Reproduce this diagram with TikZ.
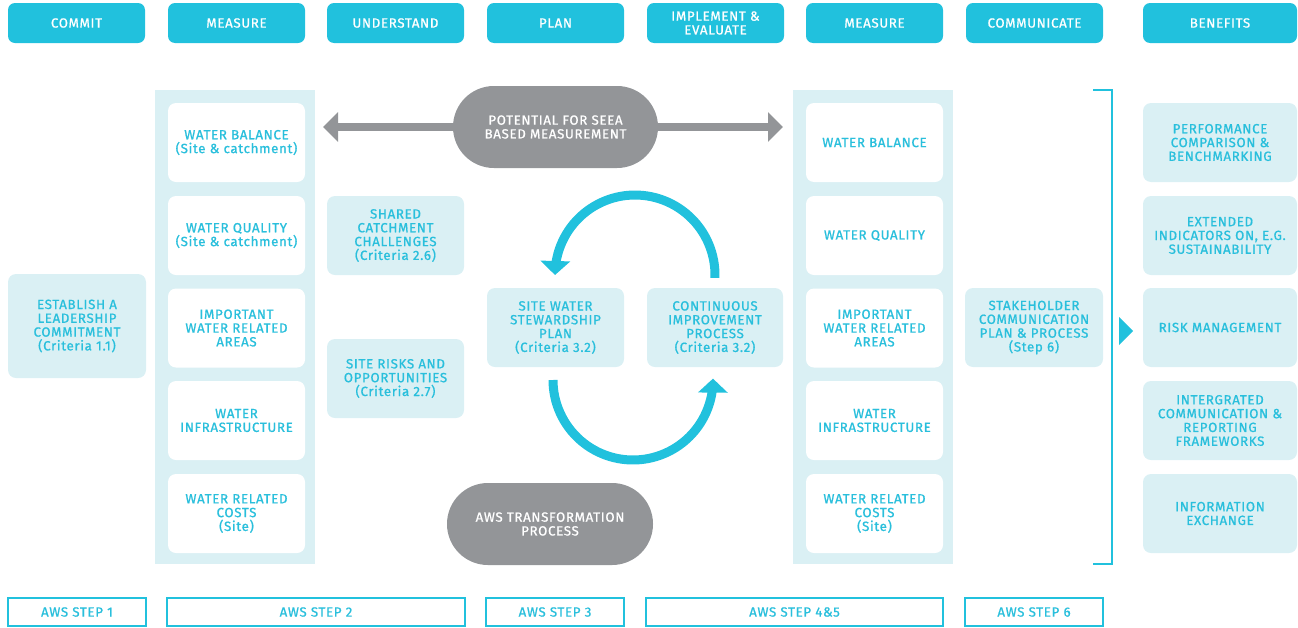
\documentclass[tikz,border=0pt]{standalone}
\usepackage{fontspec}
\setmainfont{Fira Sans}[LetterSpace=5, FakeBold=0.9]
\usetikzlibrary{arrows.meta}
\definecolor{cy}{HTML}{21C1DD}
\definecolor{lb}{HTML}{DAF0F4}
\definecolor{gr}{HTML}{939598}
\definecolor{tx}{HTML}{29BFDC}
\begin{document}
\begin{tikzpicture}[x=1pt,y=-1pt,
 base/.style={inner sep=0pt, align=center, font=\fontsize{13.3}{13.8}\selectfont},
 hdr/.style={base, fill=cy, text=white, rounded corners=7pt, minimum width=137pt, minimum height=40pt},
 wbox/.style={base, fill=white, text=tx, rounded corners=8pt, minimum width=137pt, minimum height=79pt},
 lbox/.style={base, fill=lb, text=tx, rounded corners=8pt, minimum width=137pt, minimum height=79pt},
 pill/.style={base, fill=gr, text=white, rounded corners=40.9pt, minimum width=205pt, minimum height=82pt},
 stepbox/.style={base, draw=cy, line width=1.2pt, fill=white, text=tx, minimum height=28pt},
 col/.style={fill=lb, inner sep=0pt, minimum width=160pt, minimum height=474pt},
 cyc/.style={cy, line width=9pt, -{Triangle[width=29pt,length=14pt]}},
 garrow/.style={gr, line width=8pt, -{Triangle[width=29pt,length=15pt]}},
]
\useasboundingbox (0,0) rectangle (1298,627);
% headers
\node[hdr] (h1) at (76.5,23) {COMMIT};
\node[hdr] (h2) at (236.5,23) {MEASURE};
\node[hdr] (h3) at (395.5,23) {UNDERSTAND};
\node[hdr] (h4) at (555.5,23) {PLAN};
\node[hdr] (h5) at (715.5,23) {IMPLEMENT \&\\EVALUATE};
\node[hdr] (h6) at (874.5,23) {MEASURE};
\node[hdr] (h7) at (1034.5,23) {COMMUNICATE};
\node[hdr, minimum width=154pt] (h8) at (1220,23) {BENEFITS};
% columns
\node[col] (lcol) at (235,327) {};
\node[col] (rcol) at (873,327) {};
% left column
\node[wbox] (lw1) at (236.5,142.5) {WATER BALANCE\\(Site \& catchment)};
\node[wbox] (lw2) at (236.5,235.5) {WATER QUALITY\\(Site \& catchment)};
\node[wbox] (lw3) at (236.5,328) {IMPORTANT\\WATER RELATED\\AREAS};
\node[wbox] (lw4) at (236.5,420.5) {WATER\\INFRASTRUCTURE};
\node[wbox] (lw5) at (236.5,513.5) {WATER RELATED\\COSTS\\(Site)};
% right column
\node[wbox] (rw1) at (874.5,142.5) {WATER BALANCE};
\node[wbox] (rw2) at (874.5,235.5) {WATER QUALITY};
\node[wbox] (rw3) at (874.5,328) {IMPORTANT\\WATER RELATED\\AREAS};
\node[wbox] (rw4) at (874.5,420.5) {WATER\\INFRASTRUCTURE};
\node[wbox] (rw5) at (874.5,513.5) {WATER RELATED\\COSTS\\(Site)};
% light boxes
\node[lbox, minimum width=138pt, minimum height=104pt] (est) at (77,326) {ESTABLISH A\\LEADERSHIP\\COMMITMENT\\(Criteria 1.1)};
\node[lbox] (shared) at (395.5,235.5) {SHARED\\CATCHMENT\\CHALLENGES\\(Criteria 2.6)};
\node[lbox] (risks) at (395.5,378.5) {SITE RISKS AND\\OPPORTUNITIES\\(Criteria 2.7)};
\node[lbox] (swsp) at (555.5,327.5) {SITE WATER\\STEWARDSHIP\\PLAN\\(Criteria 3.2)};
\node[lbox, minimum width=136pt] (cip) at (715,327.5) {CONTINUOUS\\IMPROVEMENT\\PROCESS\\(Criteria 3.2)};
\node[lbox, minimum width=138pt] (stake) at (1034,327.5) {STAKEHOLDER\\COMMUNICATION\\PLAN \& PROCESS\\(Step 6)};
% benefits
\node[lbox, minimum width=154pt] (b1) at (1220,142.5) {PERFORMANCE\\COMPARISON \&\\BENCHMARKING};
\node[lbox, minimum width=154pt] (b2) at (1220,235.5) {EXTENDED\\INDICATORS ON, E.G.\\SUSTAINABILITY};
\node[lbox, minimum width=154pt] (b3) at (1220,327.5) {RISK MANAGEMENT};
\node[lbox, minimum width=154pt] (b4) at (1220,420.5) {INTERGRATED\\COMMUNICATION \&\\REPORTING\\FRAMEWORKS};
\node[lbox, minimum width=154pt] (b5) at (1220,513.5) {INFORMATION\\EXCHANGE};
% pills
\node[pill] (seea) at (555.5,127) {POTENTIAL FOR SEEA\\BASED MEASUREMENT};
\node[pill, minimum width=206pt] (trans) at (550,524) {AWS TRANSFORMATION\\PROCESS};
\coordinate (la) at (323,127);
\coordinate (ra) at (783,127);
\draw[garrow] (seea.west) -- (la);
\draw[garrow] (seea.east) -- (ra);
% cycle arrows
\draw[cyc] plot[domain=-2:180, samples=60] ({635+80*cos(\x)},{275-80*sin(\x)});
\draw[cyc] plot[domain=0:181, samples=60] ({633-80*cos(\x)},{380+80*sin(\x)});
% bracket
\coordinate (bt0) at (1093,90);
\coordinate (bt1) at (1112,90);
\coordinate (bb1) at (1112,564);
\coordinate (bb0) at (1093,564);
\draw[cy, line width=1.2pt] (bt0) -- (bt1) -- (bb1) -- (bb0);
\fill[cy] (1119,317) -- (1133,331) -- (1119,345) -- cycle;
% steps
\node[stepbox, minimum width=138pt] (s1) at (77,612) {AWS STEP 1};
\node[stepbox, minimum width=298pt] (s2) at (316,612) {AWS STEP 2};
\node[stepbox, minimum width=138pt] (s3) at (555,612) {AWS STEP 3};
\node[stepbox, minimum width=297pt] (s45) at (794.5,612) {AWS STEP 4\&5};
\node[stepbox, minimum width=138pt] (s6) at (1034,612) {AWS STEP 6};
\end{tikzpicture}
\end{document}
